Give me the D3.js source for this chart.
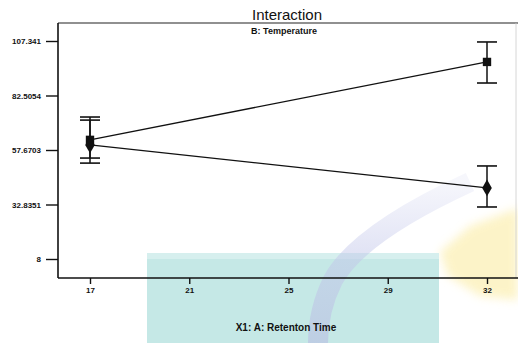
<!DOCTYPE html>
<html>
<head>
  <script src="https://d3js.org/d3.v7.min.js"></script>
  <style>
    body { margin: 0; background: #fff; }
    text { font-family: "Liberation Sans", Arial, sans-serif; fill: #111; }
  </style>
</head>
<body>
  <script>
    // x axis: factor A levels (tick labels) and the two levels that hold data
    const xTickLabels = ["17", "21", "25", "29", "32"];
    const levels = ["17", "32"];

    // y axis ticks and their printed labels
    const yTicks = [8, 32.8351, 57.6703, 82.5054, 107.341];
    const yTickLabels = ["8", "32.8351", "57.6703", "82.5054", "107.341"];

    // series 1 (square) and series 2 (diamond): mean, upper and lower interval
    const squareMean = [62.3, 97.8];
    const squareHigh = [72.7, 106.9];
    const squareLow = [54.0, 88.2];

    const diamondMean = [60.0, 40.4];
    const diamondHigh = [71.3, 50.4];
    const diamondLow = [51.7, 31.7];

    const w = 518, h = 343;
    const frame = { left: 58, top: 23, right: 516, bottom: 278 };

    const svg = d3.select("body").append("svg")
      .attr("width", w)
      .attr("height", h);

    // scan watermark behind the chart
    const defs = svg.append("defs");
    defs.append("filter").attr("id", "soft")
      .append("feGaussianBlur").attr("stdDeviation", 5);
    const grad = defs.append("linearGradient")
      .attr("id", "arcfade")
      .attr("x1", 0).attr("y1", 0).attr("x2", 0).attr("y2", 1);
    grad.append("stop").attr("offset", "0%").attr("stop-color", "#c3c7ea").attr("stop-opacity", 0.15);
    grad.append("stop").attr("offset", "45%").attr("stop-color", "#c3c7ea").attr("stop-opacity", 0.5);
    grad.append("stop").attr("offset", "100%").attr("stop-color", "#b9bde2").attr("stop-opacity", 0.6);

    const wm = svg.append("g");
    wm.append("path")
      .attr("d", "M440,252 L470,226 L518,208 L518,300 L480,296 L448,276 Z")
      .attr("fill", "#fcf0b6")
      .attr("opacity", 0.75)
      .attr("filter", "url(#soft)");
    wm.append("rect")
      .attr("x", 147).attr("y", 253).attr("width", 292).attr("height", 90)
      .attr("fill", "#c5e8e6");
    wm.append("rect")
      .attr("x", 147).attr("y", 253).attr("width", 292).attr("height", 6)
      .attr("fill", "#d6efee");
    wm.append("path")
      .attr("d", "M470,182 C420,205 355,240 333,280 C322,302 318,325 318,343")
      .attr("fill", "none")
      .attr("stroke", "url(#arcfade)")
      .attr("stroke-width", 20);

    // scales
    const x = d3.scalePoint()
      .domain(xTickLabels)
      .range([90, 487]);

    const y = d3.scaleLinear()
      .domain([8, 107.341])
      .range([259, 41]);

    // frame
    svg.append("line")
      .attr("x1", frame.left).attr("x2", w)
      .attr("y1", frame.top).attr("y2", frame.top)
      .attr("stroke", "#222").attr("stroke-width", 1.2);
    svg.append("line")
      .attr("x1", frame.right).attr("x2", frame.right)
      .attr("y1", frame.top).attr("y2", frame.bottom)
      .attr("stroke", "#ccc").attr("stroke-width", 0.8);

    // axes
    const yAxis = d3.axisLeft(y)
      .tickValues(yTicks)
      .tickSize(12)
      .tickPadding(5)
      .tickFormat((d, i) => yTickLabels[i]);
    const gy = svg.append("g")
      .attr("transform", "translate(" + frame.left + ",0)")
      .call(yAxis);
    gy.select(".domain").remove();
    gy.append("line")
      .attr("x1", 0).attr("x2", 0)
      .attr("y1", frame.top).attr("y2", frame.bottom)
      .attr("stroke", "#111").attr("stroke-width", 1.6);

    const xAxis = d3.axisBottom(x)
      .tickSize(6)
      .tickPadding(3);
    const gx = svg.append("g")
      .attr("transform", "translate(0," + frame.bottom + ")")
      .call(xAxis);
    gx.select(".domain").remove();
    gx.append("line")
      .attr("x1", frame.left).attr("x2", w)
      .attr("y1", 0).attr("y2", 0)
      .attr("stroke", "#111").attr("stroke-width", 1.6);

    svg.selectAll(".tick line").attr("stroke", "#111").attr("stroke-width", 1.4);
    svg.selectAll(".tick text")
      .style("font-size", "8px")
      .style("font-weight", "bold")
      .attr("fill", "#111");

    // titles
    svg.append("text")
      .attr("x", 287).attr("y", 20)
      .attr("text-anchor", "middle")
      .style("font-size", "15px")
      .text("Interaction");
    svg.append("text")
      .attr("x", 284).attr("y", 34)
      .attr("text-anchor", "middle")
      .style("font-size", "9px")
      .style("font-weight", "bold")
      .text("B: Temperature");
    svg.append("text")
      .attr("x", 286).attr("y", 331)
      .attr("text-anchor", "middle")
      .style("font-size", "10px")
      .style("font-weight", "bold")
      .text("X1: A: Retenton Time");

    // series
    const series = [
      { mean: squareMean, hi: squareHigh, lo: squareLow, symbol: d3.symbolSquare, size: 70 },
      { mean: diamondMean, hi: diamondHigh, lo: diamondLow, symbol: d3.symbolDiamond, size: 80 }
    ];

    const line = d3.line()
      .x((d, i) => x(levels[i]))
      .y(d => y(d));

    series.forEach(s => {
      const g = svg.append("g");

      g.append("path")
        .datum(s.mean)
        .attr("d", line)
        .attr("fill", "none")
        .attr("stroke", "#111")
        .attr("stroke-width", 1.3);

      // error bars
      g.selectAll(".bar")
        .data(levels)
        .enter()
        .append("line")
        .attr("x1", d => x(d)).attr("x2", d => x(d))
        .attr("y1", (d, i) => y(s.hi[i]))
        .attr("y2", (d, i) => y(s.lo[i]))
        .attr("stroke", "#111")
        .attr("stroke-width", 1.5);

      [s.hi, s.lo].forEach(arr => {
        g.selectAll(null)
          .data(levels)
          .enter()
          .append("line")
          .attr("x1", d => x(d) - 10).attr("x2", d => x(d) + 10)
          .attr("y1", (d, i) => y(arr[i]))
          .attr("y2", (d, i) => y(arr[i]))
          .attr("stroke", "#111")
          .attr("stroke-width", 1.6);
      });

      g.selectAll("path.pt")
        .data(levels)
        .enter()
        .append("path")
        .attr("class", "pt")
        .attr("transform", (d, i) => "translate(" + x(d) + "," + y(s.mean[i]) + ")")
        .attr("d", d3.symbol().type(s.symbol).size(s.size))
        .attr("fill", "#111");
    });
  </script>
</body>
</html>
